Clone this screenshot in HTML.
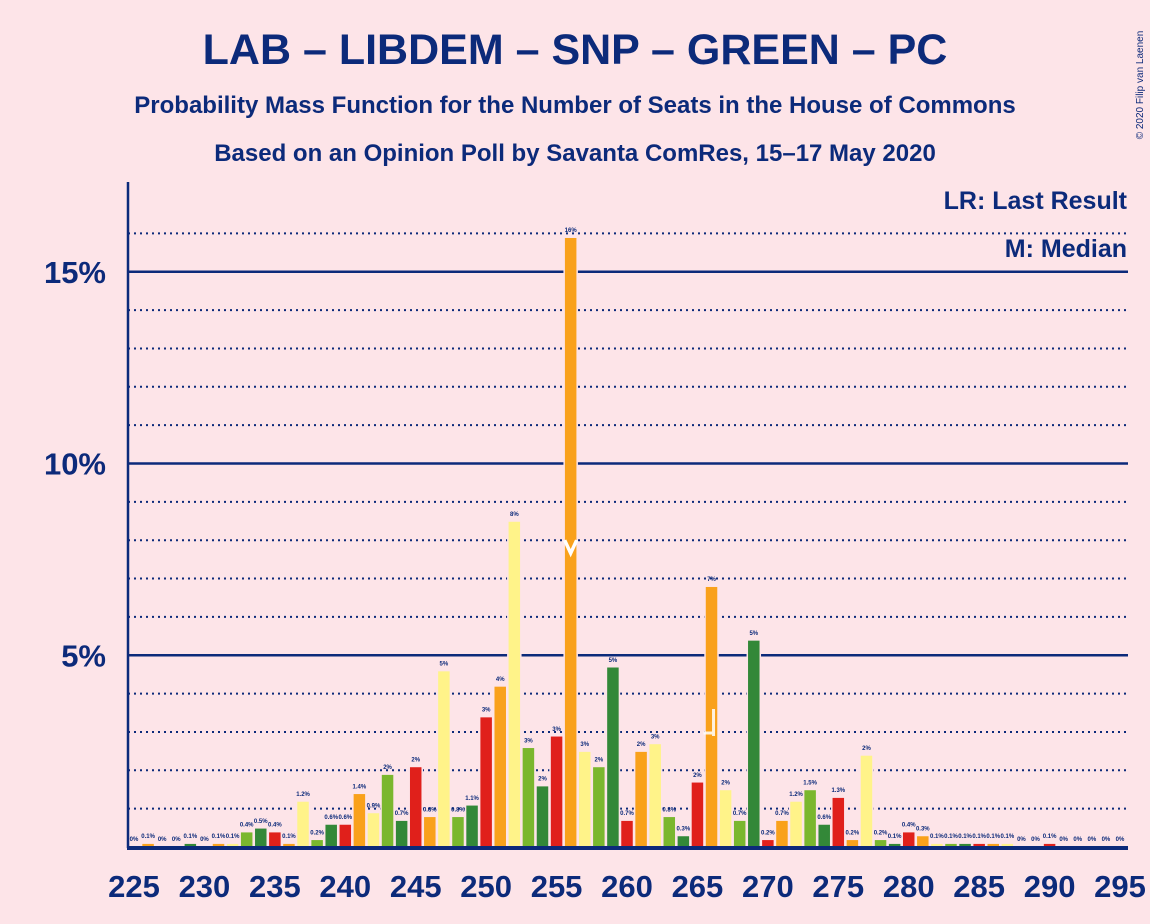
<!DOCTYPE html>
<html><head><meta charset="utf-8"><style>
body{margin:0;background:#fde4e8;}
svg{display:block;font-family:"Liberation Sans",sans-serif;}
</style></head><body>
<svg id="chart" width="1150" height="924" viewBox="0 0 1150 924">
<rect width="1150" height="924" fill="#fde4e8"/>
<text x="575" y="64" text-anchor="middle" font-size="43" font-weight="bold" fill="#0c2a7a">LAB – LIBDEM – SNP – GREEN – PC</text>
<text x="575" y="113" text-anchor="middle" font-size="24" font-weight="bold" fill="#0c2a7a">Probability Mass Function for the Number of Seats in the House of Commons</text>
<text x="575" y="161" text-anchor="middle" font-size="24" font-weight="bold" fill="#0c2a7a">Based on an Opinion Poll by Savanta ComRes, 15–17 May 2020</text>
<text x="1127" y="209" text-anchor="end" font-size="25" font-weight="bold" fill="#0c2a7a">LR: Last Result</text>
<text x="1127" y="257" text-anchor="end" font-size="25" font-weight="bold" fill="#0c2a7a">M: Median</text>
<text transform="translate(1143,85) rotate(-90)" text-anchor="middle" font-size="10" fill="#0c2a7a">© 2020 Filip van Laenen</text>
<g id="grid"></g><g id="bars"></g><g id="axes"></g>
</svg>
<script>
const seats=[225,226,227,228,229,230,231,232,233,234,235,236,237,238,239,240,241,242,243,244,245,246,247,248,249,250,251,252,253,254,255,256,257,258,259,260,261,262,263,264,265,266,267,268,269,270,271,272,273,274,275,276,277,278,279,280,281,282,283,284,285,286,287,288,289,290,291,292,293,294,295];
const probs=[0.02,0.1,0.02,0.02,0.1,0.02,0.1,0.1,0.4,0.5,0.4,0.1,1.2,0.2,0.6,0.6,1.4,0.9,1.9,0.7,2.1,0.8,4.6,0.8,1.1,3.4,4.2,8.5,2.6,1.6,2.9,15.9,2.5,2.1,4.7,0.7,2.5,2.7,0.8,0.3,1.7,6.8,1.5,0.7,5.4,0.2,0.7,1.2,1.5,0.6,1.3,0.2,2.4,0.2,0.1,0.4,0.3,0.1,0.1,0.1,0.1,0.1,0.1,0.02,0.02,0.1,0.02,0.02,0.02,0.02,0.02];
const labels=["0%","0.1%","0%","0%","0.1%","0%","0.1%","0.1%","0.4%","0.5%","0.4%","0.1%","1.2%","0.2%","0.6%","0.6%","1.4%","0.9%","2%","0.7%","2%","0.8%","5%","0.8%","1.1%","3%","4%","8%","3%","2%","3%","16%","3%","2%","5%","0.7%","2%","3%","0.8%","0.3%","2%","7%","2%","0.7%","5%","0.2%","0.7%","1.2%","1.5%","0.6%","1.3%","0.2%","2%","0.2%","0.1%","0.4%","0.3%","0.1%","0.1%","0.1%","0.1%","0.1%","0.1%","0%","0%","0.1%","0%","0%","0%","0%","0%"];
const xTicks=[225,230,235,240,245,250,255,260,265,270,275,280,285,290,295];
const yTicks=[5,10,15];
const medianSeat=256, lastResultSeat=266;
const colors=["#e0201b","#f9a11b","#fff389","#7ab72e","#338838"];
const NS="http://www.w3.org/2000/svg";
const x=s=>134+(s-225)*14.086;
const y=p=>847-p*38.35;
function mk(tag,attrs,parent,txt){const e=document.createElementNS(NS,tag);for(const k in attrs)e.setAttribute(k,attrs[k]);if(txt!==undefined)e.textContent=txt;parent.appendChild(e);return e;}
const grid=document.getElementById('grid'),bars=document.getElementById('bars'),axes=document.getElementById('axes');
for(let p=1;p<=16;p++){
  const solid=p%5===0;
  const l=mk('line',{x1:128,x2:1128,y1:y(p),y2:y(p),stroke:'#0c2a7a','stroke-width':solid?2.5:2,'stroke-dasharray':solid?'none':'2,4'},grid);
  
  
}
yTicks.forEach(t=>{
  const e=mk('text',{x:106,y:y(t)+11,'text-anchor':'end','font-size':31,'font-weight':'bold',fill:'#0c2a7a'},axes,t+'%');
  
  
});
seats.forEach((s,i)=>{
  const p=probs[i];
  const r=mk('rect',{x:x(s)-6.5,y:y(p),width:13,height:847-y(p),fill:colors[(s-225)%5],stroke:'#fde4e8','stroke-width':1.5},bars);
  
  
  const t=mk('text',{x:x(s),y:y(p)-5,'text-anchor':'middle','font-size':6,'font-weight':'bold',fill:'#0c2a7a'},bars,labels[i]);
  
  
});
const mx=x(medianSeat);
const m=mk('polyline',{points:`${mx-6},${y(8)} ${mx},${y(8)+13} ${mx+6},${y(8)}`,fill:'none',stroke:'#ffffff','stroke-width':3.5},bars);


const lx=x(lastResultSeat);
const lr=mk('path',{d:`M${lx+2},${y(3.6)} V${y(3)+4} M${lx-8},${y(3)+1} H${lx+2}`,fill:'none',stroke:'#ffffff','stroke-width':3,opacity:0.85},bars);


const ya=mk('line',{x1:128,x2:128,y1:182,y2:848,stroke:'#0c2a7a','stroke-width':2.5},axes);


const xa=mk('line',{x1:127,x2:1128,y1:848,y2:848,stroke:'#0c2a7a','stroke-width':4},axes);


xTicks.forEach(t=>{
  const e=mk('text',{x:x(t),y:897,'text-anchor':'middle','font-size':31,'font-weight':'bold',fill:'#0c2a7a'},axes,t);
  
  
});
</script>
</body></html>
